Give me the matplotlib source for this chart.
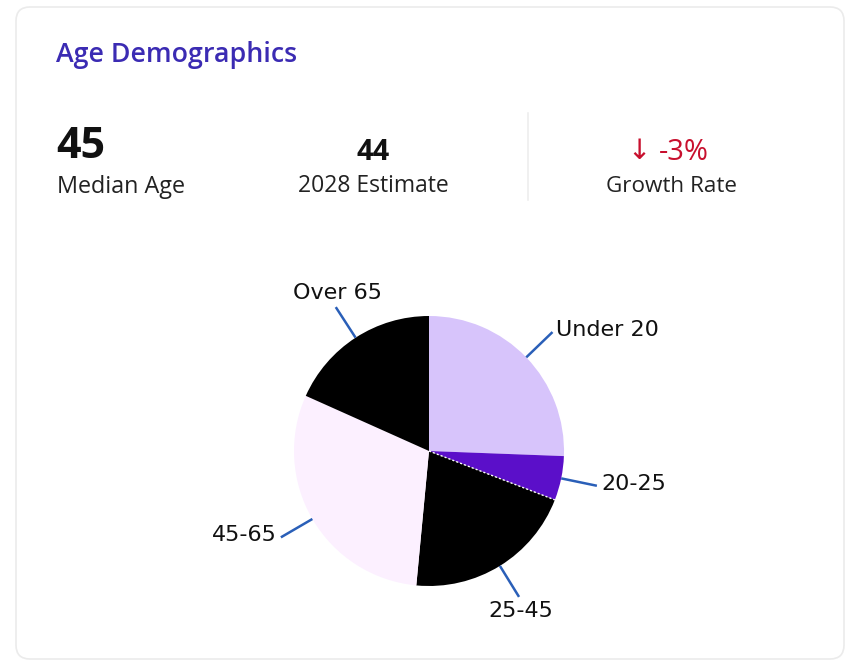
import numpy as np
import matplotlib
matplotlib.use("Agg")
import matplotlib.pyplot as plt
from matplotlib.patches import FancyBboxPatch

# Age group shares (%)
categories = ["Under 20", "20-25", "25-45", "45-65", "Over 65"]
shares = [25.6, 5.3, 20.6, 30.2, 18.3]
colors = ["#d7c4fb", "#5b0fc9", "#000000", "#fcf0ff", "#000000"]

median_age = "45"
estimate_2028 = "44"
growth_rate = "-3%"

W, H = 850, 665
fig = plt.figure(figsize=(W / 100, H / 100), dpi=100)
fig.patch.set_facecolor("#ffffff")
ax = fig.add_axes([0, 0, 1, 1])
ax.set_xlim(0, W)
ax.set_ylim(0, H)
ax.set_aspect("equal")
ax.axis("off")

def Y(y):
    return H - y

# card
card = FancyBboxPatch((16, Y(659)), 828, 652, boxstyle="round,pad=0,rounding_size=14",
                      facecolor="white", edgecolor="#ebebeb", linewidth=1.2, zorder=0)
ax.add_patch(card)

sans = ["Open Sans", "DejaVu Sans"]
ax.text(56, Y(55), "Age Demographics", fontsize=19.3, color="#3b2bb3",
        family=sans, fontweight="semibold", va="center", ha="left")

# stats row
ax.text(56, Y(146), median_age, fontsize=31, fontweight="bold", family=sans,
        color="#111111", va="center", ha="left")
ax.text(57, Y(187), "Median Age", fontsize=16.8, family=sans, color="#222222",
        va="center", ha="left")

ax.text(373, Y(153), estimate_2028, fontsize=21, fontweight="bold", family=sans,
        color="#111111", va="center", ha="center")
ax.text(373, Y(186), "2028 Estimate", fontsize=16.5, family=sans, color="#222222",
        va="center", ha="center")

ax.plot([528, 528], [Y(113), Y(200)], color="#eeeeee", lw=1.2)

ax.text(639, Y(151), "\u2193", fontsize=20, family=["DejaVu Sans"],
        color="#c8102e", va="center", ha="center")
ax.text(684, Y(153), growth_rate, fontsize=21, family=sans,
        color="#c8102e", va="center", ha="center")
ax.text(672, Y(186), "Growth Rate", fontsize=16.2, family=sans, color="#222222",
        va="center", ha="center")

# pie
cx, cy, r = 429, Y(451), 135
wedges, _ = ax.pie(shares, colors=colors, startangle=90, counterclock=False,
                   center=(cx, cy), radius=r, frame=True,
                   wedgeprops=dict(linewidth=0))
ax.set_xlim(0, W)
ax.set_ylim(0, H)
ax.axis("off")

# white dotted separator between the purple and black wedges
total = sum(shares)
angles = 90 - np.cumsum([0] + shares) / total * 360
a = np.deg2rad(angles[2])
ax.plot([cx, cx + r * np.cos(a)], [cy, cy + r * np.sin(a)], color="white",
        lw=1.0, ls=(0, (1.5, 1.5)), zorder=5)

# leader lines and labels
for i, name in enumerate(categories):
    mid = np.deg2rad((angles[i] + angles[i + 1]) / 2)
    c, s = np.cos(mid), np.sin(mid)
    x0, y0 = cx + r * 1.0 * c, cy + r * 1.0 * s
    x1, y1 = cx + r * 1.27 * c, cy + r * 1.27 * s
    ax.plot([x0, x1], [y0, y1], color="#2a5fb8", lw=1.8, solid_capstyle="butt", zorder=4)
    if abs(c) > 0.6:
        ha = "left" if c > 0 else "right"
        va = "center"
        tx, ty = x1 + (4 if c > 0 else -4), y1 + 2
    else:
        ha = "center"
        va = "bottom" if s > 0 else "top"
        tx, ty = x1 + 2, y1 + (4 if s > 0 else -4)
    ax.text(tx, ty, name, fontsize=16, family="DejaVu Sans", color="#111111",
            ha=ha, va=va, zorder=6)

fig.savefig("out.png", dpi=100, facecolor=fig.get_facecolor())
